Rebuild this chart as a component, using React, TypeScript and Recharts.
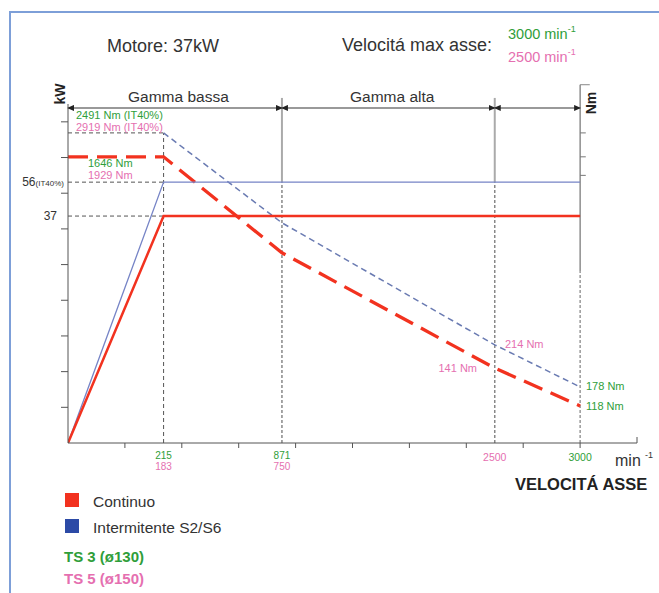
import React from "react"
import { LineChart, Line, XAxis, YAxis, ReferenceLine } from "recharts"

// schematic axis: positions of the labelled speeds on the uniform tick grid
const anchorPos = [0, 1.68, 3.76, 7.5, 9]
const ts3Speeds = ["", "215", "871", "", "3000"]
const ts5Speeds = ["", "183", "750", "2500", ""]

// series (schematic units of the tick grid)
const contPower = [0, 6.36, 6.36, 6.36, 6.36]
const intPower = [0, 7.31, 7.31, 7.31, 7.31]
const contTorque = [8.02, 8.02, 5.33, 2.1, 1.04]
const intTorque = [null, 8.69, 6.17, 2.75, 1.57]

const xTicks = [1, 2, 3, 4, 5, 6, 7, 8, 9, 10, 1.68, 3.76, 7.5]
const yTicks = [1, 2, 3, 4, 5, 6, 7, 8, 9, contPower[1], intPower[1]]
const kwLabels = ["37", "56"]
const nmTicks = [8.69, 8.02, 7.5]

const RED = "#f2321f"
const BLUE = "#7684c6"
const BLUE_DASH = "#6a7bb2"
const GREEN = "#2f9e3a"
const PINK = "#e56fb0"
const FONT = "'Liberation Sans', Arial, sans-serif"

const toSeries = (vals: (number | null)[]) =>
  anchorPos.map((x, i) => ({ x, y: vals[i] })).filter((d) => d.y !== null)

function XTick(props: any) {
  const { x, y, payload } = props
  const v = payload.value
  const i = anchorPos.indexOf(v)
  const out: React.ReactNode[] = []
  if (Number.isInteger(v)) {
    out.push(<line key="t" x1={x} x2={x} y1={y} y2={v === 10 ? y - 6 : y + 5} stroke="#555" />)
  }
  if (i > 0) {
    const a = ts3Speeds[i]
    const b = ts5Speeds[i]
    if (a && b) {
      out.push(<text key="a" x={x} y={y + 16} textAnchor="middle" fontSize={10} fill={GREEN}>{a}</text>)
      out.push(<text key="b" x={x} y={y + 27} textAnchor="middle" fontSize={10} fill={PINK}>{b}</text>)
    } else {
      out.push(<text key="c" x={x} y={y + 18} textAnchor="middle" fontSize={10.5} fill={a ? GREEN : PINK}>{a || b}</text>)
    }
  }
  return <g fontFamily={FONT}>{out}</g>
}

function YTick(props: any) {
  const { x, y, payload } = props
  const v = payload.value
  if (Number.isInteger(v)) return <line x1={x - 7} x2={x} y1={y} y2={y} stroke="#555" />
  if (v === contPower[1])
    return <text x={x - 11} y={y + 4} textAnchor="end" fontSize={12} fill="#333" fontFamily={FONT}>{kwLabels[0]}</text>
  return (
    <text x={x - 4} y={y + 4} textAnchor="end" fill="#333" fontFamily={FONT}>
      <tspan fontSize={12}>{kwLabels[1]}</tspan>
      <tspan fontSize={8}>(IT40%)</tspan>
    </text>
  )
}

const arrowShape = (p: any) => (
  <line x1={p.x1} y1={p.y1} x2={p.x2} y2={p.y2} stroke="#999" strokeWidth={2}
    markerStart="url(#arrS)" markerEnd="url(#arrE)" />
)

const dash = { stroke: "#555", strokeDasharray: "4 3", strokeWidth: 1 }
const vDash = { stroke: "#888", strokeDasharray: "3 2", strokeWidth: 1.5 }

export default function App() {
  return (
    <div style={{ position: "relative", width: 659, height: 593, overflow: "hidden", background: "#fff", fontFamily: FONT }}>
      <style>{`body{margin:0}`}</style>
      <svg width={0} height={0} style={{ position: "absolute" }}>
        <defs>
          <marker id="arrE" markerUnits="userSpaceOnUse" markerWidth={7} markerHeight={6} refX={6} refY={3} orient="auto">
            <path d="M0,0 L7,3 L0,6 Z" fill="#222" />
          </marker>
          <marker id="arrS" markerUnits="userSpaceOnUse" markerWidth={7} markerHeight={6} refX={1} refY={3} orient="auto">
            <path d="M7,0 L0,3 L7,6 Z" fill="#222" />
          </marker>
        </defs>
      </svg>
      <div style={{ position: "absolute", left: 9, top: 11, width: 700, height: 700, borderLeft: "2px solid #7d9fd8", borderTop: "2px solid #7d9fd8" }} />

      <div style={{ position: "absolute", left: 0, top: 0 }}>
        <LineChart width={659} height={593} margin={{ top: 104, right: 22, bottom: 120, left: 8 }}>
          <XAxis type="number" dataKey="x" domain={[0, 10]} ticks={xTicks} interval={0}
            tick={(p: any) => <XTick {...p} />} tickLine={false} tickSize={0} tickMargin={0}
            axisLine={{ stroke: "#555" }} allowDataOverflow />
          <YAxis type="number" dataKey="y" domain={[0, 9.5]} ticks={yTicks} interval={0} width={60}
            tick={(p: any) => <YTick {...p} />} tickLine={false} tickSize={0} tickMargin={0}
            axisLine={{ stroke: "#555" }} allowDataOverflow />

          {/* reference levels to the left of base speed */}
          <ReferenceLine segment={[{ x: 0, y: intTorque[1] as number }, { x: anchorPos[1], y: intTorque[1] as number }]} {...dash} />
          <ReferenceLine segment={[{ x: 0, y: intPower[1] }, { x: anchorPos[1], y: intPower[1] }]} {...dash} />
          <ReferenceLine segment={[{ x: 0, y: contPower[1] }, { x: anchorPos[1], y: contPower[1] }]} {...dash} />
          <ReferenceLine segment={[{ x: anchorPos[1], y: 0 }, { x: anchorPos[1], y: intTorque[1] as number }]} {...dash} />

          {/* range dividers */}
          {[anchorPos[2], anchorPos[3]].map((x) => (
            <ReferenceLine key={"s" + x} segment={[{ x, y: intPower[1] }, { x, y: 9.67 }]} stroke="#aaa" strokeWidth={2} ifOverflow="visible" />
          ))}
          {[anchorPos[2], anchorPos[3]].map((x) => (
            <ReferenceLine key={"d" + x} segment={[{ x, y: 0 }, { x, y: intPower[1] }]} {...vDash} />
          ))}

          {/* Nm axis */}
          <ReferenceLine segment={[{ x: anchorPos[4], y: 4.8 }, { x: anchorPos[4], y: 10.04 }]} stroke="#555" ifOverflow="visible" />
          <ReferenceLine segment={[{ x: anchorPos[4], y: 0 }, { x: anchorPos[4], y: 4.8 }]} {...vDash} stroke="#666" strokeWidth={1} />
          <ReferenceLine segment={[{ x: anchorPos[4], y: 10.04 }, { x: 9.17, y: 10.04 }]} stroke="#888" ifOverflow="visible" />
          {nmTicks.map((v) => (
            <ReferenceLine key={"n" + v} segment={[{ x: anchorPos[4], y: v }, { x: 9.1, y: v }]} stroke="#777" ifOverflow="visible" />
          ))}

          {/* speed ranges */}
          <ReferenceLine segment={[{ x: anchorPos[0], y: 9.39 }, { x: anchorPos[2], y: 9.39 }]} shape={arrowShape} ifOverflow="visible" />
          <ReferenceLine segment={[{ x: anchorPos[2], y: 9.39 }, { x: anchorPos[3], y: 9.39 }]} shape={arrowShape} ifOverflow="visible" />
          <ReferenceLine segment={[{ x: anchorPos[3], y: 9.39 }, { x: anchorPos[4], y: 9.39 }]} shape={arrowShape} ifOverflow="visible" />

          <Line data={toSeries(intTorque)} dataKey="y" type="linear" stroke={BLUE_DASH} strokeWidth={1.5}
            strokeDasharray="6 4" dot={false} activeDot={false} isAnimationActive={false} />
          <Line data={toSeries(contTorque)} dataKey="y" type="linear" stroke={RED} strokeWidth={3.3}
            strokeDasharray="20 9" dot={false} activeDot={false} isAnimationActive={false} />
          <Line data={toSeries(intPower)} dataKey="y" type="linear" stroke={BLUE} strokeWidth={1.3}
            dot={false} activeDot={false} isAnimationActive={false} />
          <Line data={toSeries(contPower)} dataKey="y" type="linear" stroke={RED} strokeWidth={2.5}
            dot={false} activeDot={false} isAnimationActive={false} />
        </LineChart>
      </div>

      <svg width={659} height={593} style={{ position: "absolute", left: 0, top: 0, pointerEvents: "none" }} fontFamily={FONT}>
        <text x={107} y={52} fontSize={18} fill="#333">Motore: 37kW</text>
        <text x={342} y={51} fontSize={18} fill="#333">Velocitá max asse:</text>
        <text x={508} y={39} fontSize={14.5} fill={GREEN}>3000 min<tspan fontSize={9} dy={-7}>-1</tspan></text>
        <text x={508} y={62} fontSize={14.5} fill={PINK}>2500 min<tspan fontSize={9} dy={-7}>-1</tspan></text>

        <text x={128} y={102} fontSize={15.5} fill="#333">Gamma bassa</text>
        <text x={350} y={102} fontSize={15.5} fill="#333">Gamma alta</text>
        <text transform="translate(65,94) rotate(-90)" textAnchor="middle" fontSize={14} fontWeight="bold" fill="#222">kW</text>
        <text transform="translate(596,103) rotate(-90)" textAnchor="middle" fontSize={14} fontWeight="bold" fill="#222">Nm</text>

        <text x={76} y={119} fontSize={11} fill={GREEN}>2491 Nm (IT40%)</text>
        <text x={76} y={131} fontSize={11} fill={PINK}>2919 Nm (IT40%)</text>
        <text x={88} y={167} fontSize={11} fill={GREEN}>1646 Nm</text>
        <text x={88} y={179} fontSize={11} fill={PINK}>1929 Nm</text>
        <text x={505} y={348} fontSize={11} fill={PINK}>214 Nm</text>
        <text x={477} y={372} fontSize={11} fill={PINK} textAnchor="end">141 Nm</text>
        <text x={586} y={390} fontSize={11} fill={GREEN}>178 Nm</text>
        <text x={586} y={410} fontSize={11} fill={GREEN}>118 Nm</text>

        <text x={615} y={466} fontSize={16} fill="#333">min</text>
        <text x={645} y={458} fontSize={9} fill="#333">-1</text>
        <text x={515} y={490} fontSize={16.5} fontWeight="bold" fill="#222">VELOCITÁ ASSE</text>

        <rect x={65} y={493} width={14} height={14} fill={RED} />
        <text x={93} y={507} fontSize={15.5} fill="#333">Continuo</text>
        <rect x={65} y={519} width={14} height={14} fill="#2c4aa6" />
        <text x={93} y={533} fontSize={15.5} fill="#333">Intermitente S2/S6</text>
        <text x={64} y={562} fontSize={15} fontWeight="bold" fill={GREEN}>TS 3 (ø130)</text>
        <text x={64} y={584} fontSize={15} fontWeight="bold" fill={PINK}>TS 5 (ø150)</text>
      </svg>
    </div>
  )
}
